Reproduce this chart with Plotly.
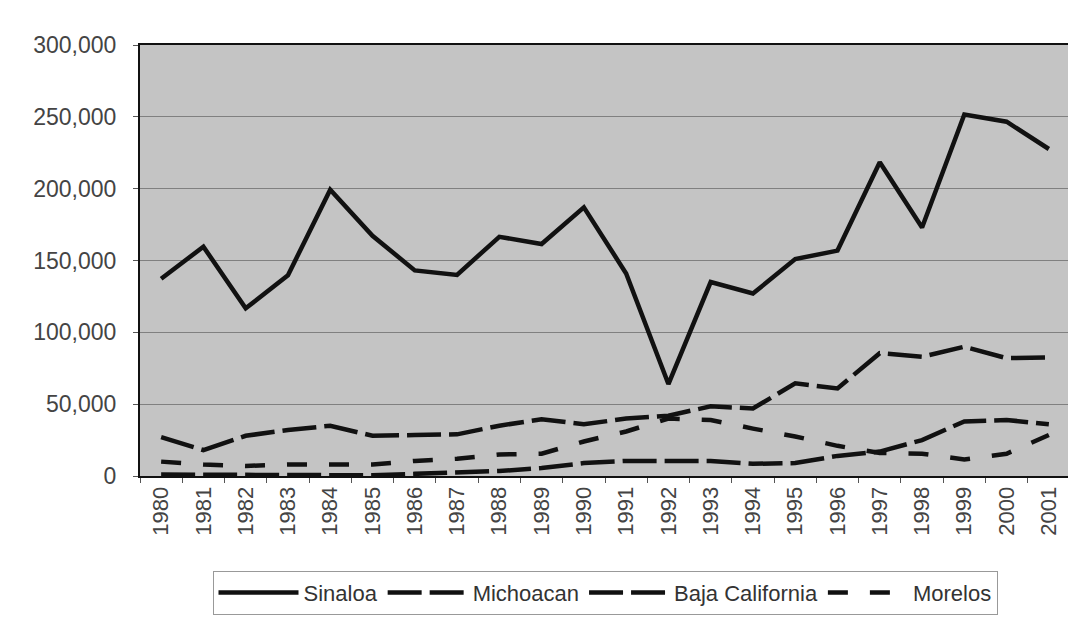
import plotly.graph_objects as go

years = [str(y) for y in range(1980, 2002)]

sinaloa = [137300, 159600, 116700, 139700, 199300, 167200, 143100, 140000, 166500, 161500,
           187000, 141000, 64000, 135000, 127000, 151000, 156900, 218400, 173000, 251600,
           246600, 227600]
michoacan = [27000, 18000, 28000, 32000, 35000, 28000, 28500, 29000, 35000, 39500,
             36000, 40000, 42000, 48500, 47000, 64500, 61000, 85500, 83000, 90000,
             82000, 82500]
baja_california = [1000, 1000, 1000, 1000, 500, 500, 1500, 2500, 3500, 5500,
                   9000, 10500, 10500, 10500, 8500, 9000, 14000, 17000, 25000, 38000,
                   39000, 36000]
morelos = [10000, 8000, 7000, 8000, 8000, 8000, 10500, 12000, 15000, 15500,
           24000, 31000, 40000, 39000, 33000, 27500, 21000, 16000, 15500, 11500,
           15500, 28500]

series = [
    ("Sinaloa", sinaloa, "solid", 4.5),
    ("Michoacan", michoacan, "34px,8px", 4.5),
    ("Baja California", baja_california, "34px,8px", 4.5),
    ("Morelos", morelos, "20px,22px", 4.5),
]

fig = go.Figure()
for name, vals, dash, w in series:
    fig.add_trace(go.Scatter(
        x=years, y=vals, name=name, mode="lines",
        line=dict(color="#111111", width=w, dash=dash),
    ))

font_family = "Liberation Sans, Arial, sans-serif"

# page has an 8px body margin, so margins are shifted to land the plot at 140..1060 x 45..478
fig.update_layout(
    width=1076, height=619,
    margin=dict(l=132, r=14, t=37, b=149),
    paper_bgcolor="white",
    plot_bgcolor="#c4c4c4",
    font=dict(family=font_family, color="#444444", size=22),
    xaxis=dict(
        type="category", range=[-0.5, 21.5],
        tickangle=-90, tickfont=dict(size=22, color="#444444"),
        showgrid=False, ticks="outside", ticklen=5, tickcolor="#555555",
        tickson="boundaries",
        showline=True, linecolor="#111111", linewidth=2, mirror=True,
    ),
    yaxis=dict(
        range=[0, 300000], dtick=50000, tickformat=",",
        tickfont=dict(size=23, color="#444444"),
        showgrid=True, gridcolor="#808080", gridwidth=1,
        ticks="outside", ticklen=5, tickcolor="#555555",
        ticklabelstandoff=12,
        showline=True, linecolor="#111111", linewidth=2, mirror=True,
        zeroline=False,
    ),
    legend=dict(
        orientation="h", x=0.5, xanchor="center", y=-0.22, yanchor="top",
        bordercolor="#999999", borderwidth=1, bgcolor="white",
        font=dict(size=22, color="#333333"),
        itemwidth=80,
    ),
    showlegend=True,
)

fig.write_html("out.html")
